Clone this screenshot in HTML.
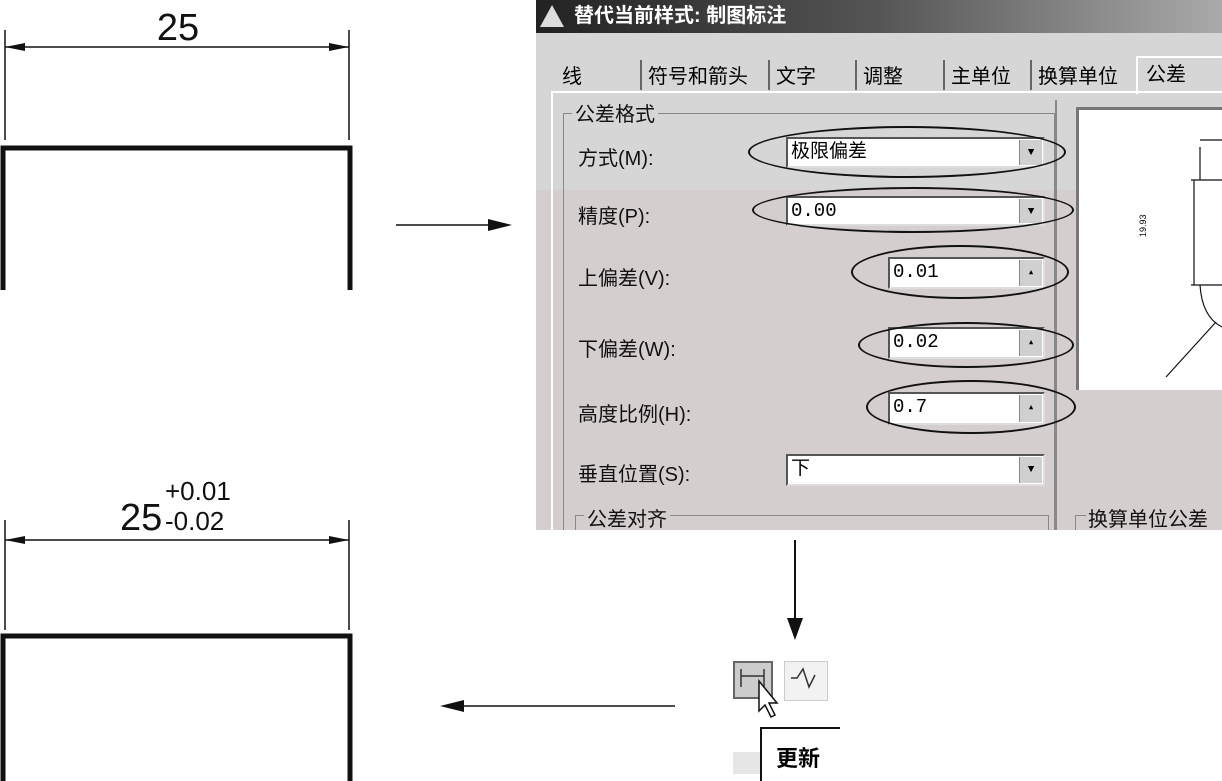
<!DOCTYPE html>
<html><head><meta charset="utf-8"><style>
body{margin:0;width:1222px;height:781px;background:#fff;position:relative;overflow:hidden;font-family:"Liberation Sans","Noto Sans CJK SC",sans-serif}
.a{position:absolute}
.lbl{position:absolute;font-size:20px;color:#111}
.box{position:absolute;background:#fff;border:2px solid #555;border-right-color:#ddd;border-bottom-color:#ddd;font-family:"Liberation Mono","Noto Sans CJK SC",monospace;font-size:19px;padding-left:3px;box-sizing:border-box;line-height:26px}
.dd{position:absolute;right:1px;top:1px;width:22px;bottom:1px;background:#d0d0d0;border-left:1px solid #888;font-size:11px;text-align:center;line-height:26px}
.ell{position:absolute;border:2px solid #111;border-radius:50%}
.tab{position:absolute;top:60px;font-size:20px;border-left:2px solid #666;padding-left:6px;height:30px}
#dlg{position:absolute;left:0;top:0;width:1222px;height:530px;overflow:hidden}
</style></head><body>
<svg class="a" style="left:0;top:0" width="700" height="781">
<g stroke="#111" fill="none">
<line x1="5" y1="30" x2="5" y2="140" stroke-width="1.5"/>
<line x1="349" y1="30" x2="349" y2="140" stroke-width="1.5"/>
<line x1="5" y1="47" x2="349" y2="47" stroke-width="1.5"/>
<path d="M3 290 V148 H350 V290" stroke-width="5"/>
<line x1="5" y1="520" x2="5" y2="630" stroke-width="1.5"/>
<line x1="349" y1="520" x2="349" y2="630" stroke-width="1.5"/>
<line x1="5" y1="540" x2="349" y2="540" stroke-width="1.5"/>
<path d="M3 781 V636 H350 V781" stroke-width="5"/>
<line x1="396" y1="225" x2="495" y2="225" stroke-width="1.5"/>
<line x1="460" y1="706" x2="675" y2="706" stroke-width="1.5"/>
</g>
<g fill="#111">
<polygon points="5,47 25,43 25,51"/><polygon points="349,47 329,43 329,51"/>
<polygon points="5,540 25,536 25,544"/><polygon points="349,540 329,536 329,544"/>
<polygon points="512,225 488,219 488,231"/>
<polygon points="440,706 464,700 464,712"/>
</g>
<text x="178" y="40" font-size="38" text-anchor="middle" font-family="Liberation Sans" fill="#111">25</text>
<text x="120" y="530" font-size="38" font-family="Liberation Sans" fill="#111">25</text>
<text x="165" y="500" font-size="26" font-family="Liberation Sans" fill="#111">+0.01</text>
<text x="165" y="530" font-size="26" font-family="Liberation Sans" fill="#111">-0.02</text>
</svg>
<div id="dlg">
<div class="a" style="left:536px;top:0;width:686px;height:530px;background:#d5d3d3"></div>
<div class="a" style="left:536px;top:33px;width:686px;height:157px;background:#d6d6d6"></div>
<div class="a" style="left:536px;top:190px;width:686px;height:340px;background:#d5cece"></div>
<div class="a" style="left:536px;top:0;width:686px;height:33px;background:linear-gradient(90deg,#222,#555 50%,#aaa);color:#fff;font-size:20px;font-weight:bold;line-height:33px;padding-left:38px;box-sizing:border-box">替代当前样式: 制图标注</div>
<div class="a" style="left:540px;top:5px;width:0;height:0;border-left:12px solid transparent;border-right:12px solid transparent;border-bottom:22px solid #ddd"></div>
<div class="tab" style="left:556px;border-left:none">线</div>
<div class="tab" style="left:640px">符号和箭头</div>
<div class="tab" style="left:768px">文字</div>
<div class="tab" style="left:855px">调整</div>
<div class="tab" style="left:943px">主单位</div>
<div class="tab" style="left:1030px">换算单位</div>
<div class="a" style="left:1136px;top:56px;width:90px;height:36px;border-left:2px solid #fff;border-top:2px solid #fff;font-size:20px;padding-left:8px">公差</div>
<div class="a" style="left:551px;top:91px;width:680px;height:445px;border-left:2px solid #fff;border-top:2px solid #fff"></div>
<div class="a" style="left:563px;top:113px;width:490px;height:430px;border:1px solid #888"></div>
<div class="a" style="left:1055px;top:100px;width:2px;height:440px;background:#888"></div>
<div class="lbl" style="left:572px;top:98px;background:#d6d6d6;padding:0 3px">公差格式</div>
<div class="a" style="left:1076px;top:107px;width:150px;height:280px;background:#fff;border-left:3px solid #777;border-top:3px solid #777"></div>
<svg class="a" style="left:1076px;top:107px" width="146" height="280"><g stroke="#111" fill="none" stroke-width="1.2"><line x1="124" y1="40" x2="124" y2="73"/><line x1="124" y1="33" x2="146" y2="33"/><line x1="115" y1="73" x2="146" y2="73"/><line x1="115" y1="178" x2="146" y2="178"/><line x1="118" y1="73" x2="118" y2="178"/><path d="M124 178 Q126 210 146 220"/><line x1="90" y1="270" x2="140" y2="215"/></g><text x="70" y="130" font-size="9" transform="rotate(-90 70 130)">19.93</text></svg>
<div class="lbl" style="left:578px;top:142px">方式(M):</div>
<div class="box" style="left:786px;top:137px;width:259px;height:31px">极限偏差<div class="dd">▼</div></div>
<div class="lbl" style="left:578px;top:200px">精度(P):</div>
<div class="box" style="left:786px;top:196px;width:259px;height:30px">0.00<div class="dd">▼</div></div>
<div class="lbl" style="left:578px;top:262px">上偏差(V):</div>
<div class="box" style="left:888px;top:257px;width:157px;height:32px">0.01<div class="dd">▴</div></div>
<div class="lbl" style="left:578px;top:333px">下偏差(W):</div>
<div class="box" style="left:888px;top:327px;width:157px;height:32px">0.02<div class="dd">▴</div></div>
<div class="lbl" style="left:578px;top:398px">高度比例(H):</div>
<div class="box" style="left:888px;top:392px;width:157px;height:33px">0.7<div class="dd">▴</div></div>
<div class="lbl" style="left:578px;top:458px">垂直位置(S):</div>
<div class="box" style="left:786px;top:454px;width:259px;height:32px">下<div class="dd">▼</div></div>
<div class="a" style="left:575px;top:515px;width:472px;height:20px;border:1px solid #888;border-bottom:none"></div>
<div class="lbl" style="left:584px;top:503px;background:#d5cece;padding:0 3px">公差对齐</div>
<div class="lbl" style="left:1088px;top:503px">换算单位公差</div>
<div class="a" style="left:1075px;top:515px;width:10px;height:20px;border-left:1px solid #888;border-top:1px solid #888"></div>
<div class="ell" style="left:748px;top:126px;width:314px;height:48px"></div>
<div class="ell" style="left:752px;top:187px;width:318px;height:42px"></div>
<div class="ell" style="left:851px;top:245px;width:214px;height:50px"></div>
<div class="ell" style="left:858px;top:322px;width:212px;height:42px"></div>
<div class="ell" style="left:866px;top:380px;width:206px;height:50px"></div>
</div>
<div class="a" style="left:794px;top:540px;width:2px;height:82px;background:#111"></div>
<div class="a" style="left:787px;top:618px;width:0;height:0;border-left:8px solid transparent;border-right:8px solid transparent;border-top:22px solid #111"></div>
<div class="a" style="left:784px;top:661px;width:42px;height:38px;border:1px solid #ccc;background:#f2f2f2"></div>
<div class="a" style="left:733px;top:661px;width:40px;height:38px;background:#ccc;border:2px solid #666;box-sizing:border-box"></div>
<svg class="a" style="left:733px;top:661px" width="100" height="60"><g stroke="#333" stroke-width="1.5" fill="none"><line x1="8" y1="8" x2="8" y2="26"/><line x1="31" y1="8" x2="31" y2="26"/><line x1="8" y1="15" x2="31" y2="15"/><polyline points="58,17 64,17 70,8 76,26 82,14"/></g><polygon points="26,20 26,50 32,44 38,56 42,54 36,42 44,42" fill="#fff" stroke="#111" stroke-width="1.5"/></svg>
<div class="a" style="left:733px;top:752px;width:30px;height:22px;background:#e6e6e6"></div>
<div class="a" style="left:760px;top:727px;width:80px;height:54px;border-left:2px solid #111;border-top:2px solid #111;background:#fff;font-size:22px;font-weight:bold;padding:12px 0 0 14px;box-sizing:border-box">更新</div>
</body></html>
